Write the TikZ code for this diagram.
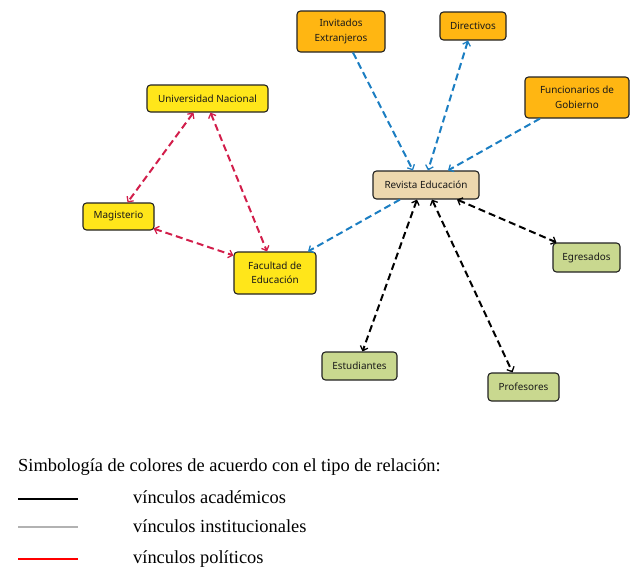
\documentclass[tikz,border=0pt]{standalone}
\usepackage{fontspec}
\setmainfont{Liberation Serif}
\newfontfamily\boxfont{Noto Sans}
\usetikzlibrary{arrows.meta,calc}
\definecolor{cOrange}{HTML}{FFB612}
\definecolor{cYellow}{HTML}{FFE61A}
\definecolor{cTan}{HTML}{EDD8AE}
\definecolor{cGreen}{HTML}{C9D88F}
\definecolor{cBlue}{HTML}{1B7EC2}
\definecolor{cRed}{HTML}{D21E4B}
\definecolor{cBorder}{HTML}{222222}
\definecolor{legRed}{HTML}{FF0000}
\tikzset{
  box/.style={draw=cBorder, line width=1.1pt, rounded corners=3.5pt, align=center,
    inner sep=1pt, font=\boxfont\fontsize{9.9}{14.5}\selectfont, text=black!90},
  orangebox/.style={box, fill=cOrange},
  yellowbox/.style={box, fill=cYellow},
  tanbox/.style={box, fill=cTan},
  greenbox/.style={box, fill=cGreen},
  link/.style={line width=2pt, dash pattern=on 7pt off 4pt,
    arrows={Straight Barb[length=4pt,width=8pt,line width=1.3pt]-Straight Barb[length=4pt,width=8pt,line width=1.3pt]}},
  onelink/.style={line width=2pt, dash pattern=on 7pt off 4pt,
    arrows={-Straight Barb[length=4pt,width=8pt,line width=1.3pt]}},
  bluelink/.style={link, cBlue},
  blueone/.style={onelink, cBlue},
  redlink/.style={link, cRed},
  blacklink/.style={link, black},
  legtext/.style={anchor=base west, inner sep=0pt, font=\fontsize{18.4}{22}\selectfont},
  legline/.style={line width=1.2pt}
}
\begin{document}
\begin{tikzpicture}[x=1pt,y=-1pt]
\useasboundingbox (0,0) rectangle (642,573);
% nodes
\node[orangebox, minimum width=88pt, minimum height=41pt] (inv) at (341,31.5) {Invitados\\Extranjeros};
\node[orangebox, minimum width=66pt, minimum height=28pt] (dir) at (473,26) {Directivos};
\node[orangebox, minimum width=104pt, minimum height=41pt] (fun) at (577,97.5) {Funcionarios de\\Gobierno};
\node[tanbox, minimum width=106pt, minimum height=28pt] (rev) at (426,185) {Revista Educación};
\node[yellowbox, minimum width=121pt, minimum height=27pt] (uni) at (207.5,98.5) {Universidad Nacional};
\node[yellowbox, minimum width=71pt, minimum height=27pt] (mag) at (118.5,216.5) {Magisterio};
\node[yellowbox, minimum width=82pt, minimum height=42pt] (fac) at (275,273) {Facultad de\\Educación};
\node[greenbox, minimum width=67pt, minimum height=29pt] (egr) at (586.5,257.5) {Egresados};
\node[greenbox, minimum width=75pt, minimum height=28pt] (est) at (359.5,366) {Estudiantes};
\node[greenbox, minimum width=71pt, minimum height=28pt] (pro) at (523.5,387) {Profesores};
% blue links
\draw[blueone] ($(inv.south)+(12,0)$) -- ($(rev.north)+(-13,0)$);
\draw[bluelink] ($(dir.south)+(-5,0)$) -- ($(rev.north)+(2,0)$);
\draw[blueone] ($(fun.south)+(-37,0)$) -- ($(rev.north)+(22,0)$);
\draw[blueone] ($(rev.south)+(-26,0)$) -- ($(fac.north)+(33,0)$);
% black links
\draw[blacklink] ($(rev.south)+(-9,0)$) -- ($(est.north)+(3,0)$);
\draw[blacklink] ($(rev.south)+(6,0)$) -- ($(pro.north)+(-11,0)$);
\draw[blacklink] ($(rev.south)+(31,0)$) -- ($(egr.north)+(-30,0)$);
% red links
\draw[redlink] ($(uni.south)+(-14,0)$) -- ($(mag.north)+(9,0)$);
\draw[redlink] ($(uni.south)+(3,0)$) -- ($(fac.north)+(-8,0)$);
\draw[redlink] ($(mag.south east)+(-1,-2)$) -- ($(fac.north west)+(0,4)$);
% legend
\node[legtext] (legtitle) at (18,471) {Simbología de colores de acuerdo con el tipo de relación:};
\coordinate (la1) at (18,499); \coordinate (la2) at (78,499);
\coordinate (lb1) at (18,527); \coordinate (lb2) at (78,527);
\coordinate (lc1) at (18,559); \coordinate (lc2) at (78,559);
\draw[legline, black] (la1) -- (la2);
\draw[legline, black!30] (lb1) -- (lb2);
\draw[legline, legRed] (lc1) -- (lc2);
\node[legtext] (leg1) at (133,503) {vínculos académicos};
\node[legtext] (leg2) at (133,532) {vínculos institucionales};
\node[legtext] (leg3) at (133,563) {vínculos políticos};
\end{tikzpicture}
\end{document}
